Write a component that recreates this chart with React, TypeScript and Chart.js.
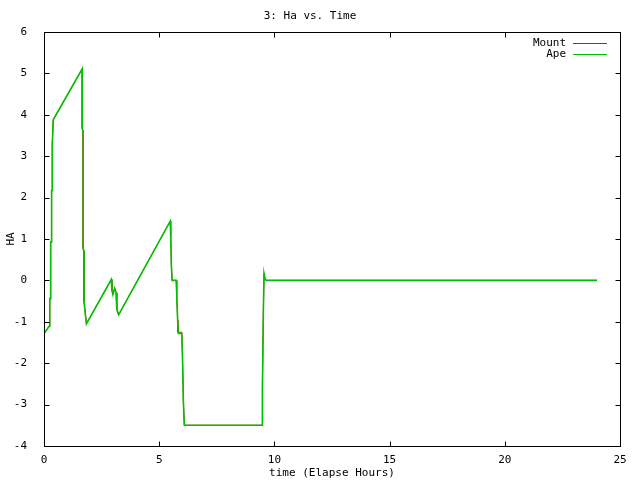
import { useEffect, useRef } from 'react';
import { Chart, registerables } from 'chart.js';

Chart.register(...registerables);

const FONT = '"DejaVu Sans Mono", "Liberation Mono", monospace';

// HA readings over elapsed hours
const apeTime = [
  0, 0.22, 0.25, 0.25, 0.29, 0.29, 0.33, 0.33, 0.36, 0.36, 0.4, 1.66, 1.66, 1.7, 1.7, 1.74, 1.74, 1.84,
  2.92, 2.95, 2.99, 3.07, 3.13, 3.16, 3.24, 5.48, 5.5, 5.53, 5.56, 5.74, 5.76, 5.8, 5.83, 5.98, 6.01,
  6.05, 6.09, 9.47, 9.48, 9.52, 9.55, 9.57, 9.6, 9.64, 24.0,
];
const apeHa = [
  -1.29, -1.11, -1.08, -0.44, -0.44, 0.93, 0.93, 2.17, 2.17, 3.28, 3.88, 5.11, 3.67, 3.6, 0.77, 0.7, -0.52, -1.05,
  0.02, -0.24, -0.34, -0.19, -0.3, -0.7, -0.83, 1.43, 1.06, 0.34, 0, 0, -0.32, -0.96, -1.28, -1.28, -1.83,
  -2.94, -3.5, -3.5, -2.6, -0.77, 0.16, 0.1, 0.04, 0, 0,
];
const mountTime = [
  0, 0.22, 0.25, 0.25, 0.29, 0.29, 0.33, 0.33, 0.36, 0.36, 0.4, 1.66, 1.66, 1.7, 1.7, 1.74, 1.74, 1.84,
  2.92, 2.95, 2.99, 3.07, 3.13, 3.16, 3.24, 5.48, 5.5, 5.53, 5.56, 5.74, 5.76, 5.8, 5.81, 5.98, 6.01,
  6.05, 6.09, 9.47, 9.48, 9.52, 9.55, 9.57, 9.6, 9.64, 24.0,
];
const mountHa = [
  -1.29, -1.11, -1.08, -0.44, -0.44, 0.93, 0.93, 2.17, 2.17, 3.28, 3.88, 5.11, 3.67, 3.6, 0.77, 0.7, -0.52, -1.05,
  0.02, -0.24, -0.34, -0.19, -0.3, -0.7, -0.83, 1.43, 1.06, 0.34, 0, 0, -0.32, -0.96, -1.25, -1.25, -1.83,
  -2.94, -3.5, -3.5, -2.6, -0.77, 0.16, 0.1, 0.04, 0, 0,
];

const seriesNames = ['Mount', 'Ape'];
const seriesColors = ['#ff0000', '#00c000'];

const toPoints = (xs: number[], ys: number[]) => xs.map((x, i) => ({ x, y: ys[i] }));

// gnuplot-like frame with inward ticks on all four sides
const framePlugin = {
  id: 'frame',
  afterDatasetsDraw(chart: any) {
    const { ctx, chartArea: a, scales } = chart;
    const L = Math.round(a.left) + 0.5;
    const R = Math.round(a.right) + 0.5;
    const T = Math.round(a.top) + 0.5;
    const B = Math.round(a.bottom) + 0.5;
    const len = 5;
    ctx.save();
    ctx.strokeStyle = '#000';
    ctx.lineWidth = 1;
    ctx.strokeRect(L, T, R - L, B - T);
    ctx.beginPath();
    scales.x.ticks.forEach((t: any) => {
      const px = Math.round(scales.x.getPixelForValue(t.value)) + 0.5;
      ctx.moveTo(px, B);
      ctx.lineTo(px, B - len);
      ctx.moveTo(px, T);
      ctx.lineTo(px, T + len);
    });
    scales.y.ticks.forEach((t: any) => {
      const py = Math.round(scales.y.getPixelForValue(t.value)) + 0.5;
      ctx.moveTo(L, py);
      ctx.lineTo(L + len, py);
      ctx.moveTo(R, py);
      ctx.lineTo(R - len, py);
    });
    ctx.stroke();
    ctx.restore();
  },
};

// legend in the top right corner, text left of a line sample
const keyPlugin = {
  id: 'key',
  afterDraw(chart: any) {
    const { ctx, chartArea: a } = chart;
    ctx.save();
    ctx.font = `11px ${FONT}`;
    ctx.textAlign = 'right';
    ctx.textBaseline = 'middle';
    chart.data.datasets.forEach((ds: any, i: number) => {
      const y = a.top + 11 + i * 11;
      ctx.fillStyle = '#000';
      ctx.fillText(ds.label, a.right - 54, y);
      ctx.strokeStyle = ds.borderColor;
      ctx.lineWidth = 1;
      ctx.beginPath();
      ctx.moveTo(a.right - 47, Math.round(y) + 0.5);
      ctx.lineTo(a.right - 13, Math.round(y) + 0.5);
      ctx.stroke();
    });
    ctx.restore();
  },
};

export default function App() {
  const canvasRef = useRef<HTMLCanvasElement>(null);
  const chartRef = useRef<Chart | null>(null);

  useEffect(() => {
    if (!canvasRef.current) return;
    if (chartRef.current) chartRef.current.destroy();

    Chart.defaults.color = '#000';
    Chart.defaults.font.family = FONT;
    Chart.defaults.font.size = 11;

    chartRef.current = new Chart(canvasRef.current, {
      type: 'line',
      data: {
        datasets: [
          {
            label: seriesNames[0],
            data: toPoints(mountTime, mountHa),
            borderColor: seriesColors[0],
            borderWidth: 1,
            pointRadius: 0,
            tension: 0,
            order: 2,
          },
          {
            label: seriesNames[1],
            data: toPoints(apeTime, apeHa),
            borderColor: seriesColors[1],
            borderWidth: 1.6,
            pointRadius: 0,
            tension: 0,
            order: 1,
          },
        ],
      },
      options: {
        responsive: false,
        animation: false,
        events: [],
        layout: { padding: { left: 0, right: 20, top: 0, bottom: 0 } },
        plugins: {
          legend: { display: false },
          tooltip: { enabled: false },
          title: {
            display: true,
            text: '3: Ha vs. Time',
            font: { size: 11, weight: 'normal', family: FONT },
            padding: { top: 10, bottom: 8.8 },
          },
        },
        scales: {
          x: {
            type: 'linear',
            min: 0,
            max: 25,
            grid: { display: false },
            border: { display: false },
            ticks: { stepSize: 5, padding: 0, maxRotation: 0 },
            title: { display: true, text: 'time (Elapse Hours)', padding: { top: 1.5, bottom: 0 } },
            afterFit(scale: any) {
              scale.height = 34;
            },
          },
          y: {
            type: 'linear',
            min: -4,
            max: 6,
            grid: { display: false },
            border: { display: false },
            ticks: { stepSize: 1, padding: 9 },
            title: { display: true, text: 'HA', padding: { top: 4.5, bottom: 0 } },
            afterFit(scale: any) {
              scale.width = 44;
            },
          },
        },
      },
      plugins: [framePlugin, keyPlugin],
    });

    return () => {
      if (chartRef.current) {
        chartRef.current.destroy();
        chartRef.current = null;
      }
    };
  }, []);

  return (
    <div style={{ position: 'fixed', left: 0, top: 0, width: 640, height: 480, background: '#fff' }}>
      <canvas ref={canvasRef} width={640} height={480} />
    </div>
  );
}
